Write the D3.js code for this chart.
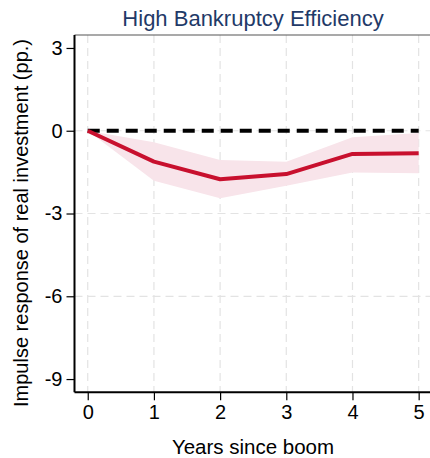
<!DOCTYPE html>
<html>
<head>
<meta charset="utf-8">
<script src="https://cdn.jsdelivr.net/npm/d3@7"></script>
<style>
  body { margin: 0; background: #fff; }
  text { font-family: "Liberation Sans", Arial, sans-serif; }
</style>
</head>
<body>
<div id="chart"></div>
<script>
// data
const years = [0, 1, 2, 3, 4, 5];
const irf = [0, -1.12, -1.76, -1.57, -0.84, -0.82];
const ciUpper = [0, -0.42, -1.06, -1.12, -0.24, -0.08];
const ciLower = [0, -1.81, -2.45, -1.99, -1.51, -1.54];
const yTicks = [3, 0, -3, -6, -9];
const yGrid = [0, -3, -6];

const width = 430;
const height = 458;

const xScale = d3.scaleLinear().domain([-0.2, 5.2]).range([74.5, 431.9]);
const yScale = d3.scaleLinear().domain([-9.48, 3.47]).range([392.3, 35]);

const svg = d3
  .select("#chart")
  .append("svg")
  .attr("width", width)
  .attr("height", height);

// grid
svg
  .append("g")
  .selectAll("line")
  .data(years)
  .enter()
  .append("line")
  .attr("x1", (d) => xScale(d))
  .attr("x2", (d) => xScale(d))
  .attr("y1", yScale.range()[1])
  .attr("y2", yScale.range()[0])
  .attr("stroke", "#e3e3e3")
  .attr("stroke-width", 1.2)
  .attr("stroke-dasharray", "8,5");

svg
  .append("g")
  .selectAll("line")
  .data(yGrid)
  .enter()
  .append("line")
  .attr("x1", xScale.range()[0])
  .attr("x2", xScale.range()[1])
  .attr("y1", (d) => yScale(d))
  .attr("y2", (d) => yScale(d))
  .attr("stroke", "#e3e3e3")
  .attr("stroke-width", 1.2)
  .attr("stroke-dasharray", "8,5");

// top frame line
svg
  .append("line")
  .attr("x1", xScale.range()[0])
  .attr("x2", xScale.range()[1])
  .attr("y1", yScale.range()[1])
  .attr("y2", yScale.range()[1])
  .attr("stroke", "#555")
  .attr("stroke-width", 1.2);

// confidence band
const band = years.map((d, i) => ({ x: d, lo: ciLower[i], hi: ciUpper[i] }));
svg
  .append("path")
  .datum(band)
  .attr("fill", "#f8e4ea")
  .attr(
    "d",
    d3
      .area()
      .x((d) => xScale(d.x))
      .y0((d) => yScale(d.lo))
      .y1((d) => yScale(d.hi))
  );

// zero line
svg
  .append("line")
  .attr("x1", xScale(0))
  .attr("x2", xScale(5))
  .attr("y1", yScale(0))
  .attr("y2", yScale(0))
  .attr("stroke", "#000")
  .attr("stroke-width", 4)
  .attr("stroke-dasharray", "12,7");

// impulse response line
svg
  .append("path")
  .datum(years.map((d, i) => [d, irf[i]]))
  .attr("fill", "none")
  .attr("stroke", "#c8102e")
  .attr("stroke-width", 4)
  .attr("stroke-linejoin", "round")
  .attr(
    "d",
    d3
      .line()
      .x((d) => xScale(d[0]))
      .y((d) => yScale(d[1]))
  );

// axes
const yAxis = d3
  .axisLeft(yScale)
  .tickValues(yTicks)
  .tickFormat((d) => String(d))
  .tickSize(8)
  .tickPadding(4);
const gy = svg
  .append("g")
  .attr("transform", "translate(" + xScale.range()[0] + ",0)")
  .call(yAxis);

const xAxis = d3
  .axisBottom(xScale)
  .tickValues(years)
  .tickFormat((d) => String(d))
  .tickSize(8)
  .tickPadding(5);
const gx = svg
  .append("g")
  .attr("transform", "translate(0," + yScale.range()[0] + ")")
  .call(xAxis);

[gx, gy].forEach((g) => {
  g.select(".domain").attr("stroke", "#000").attr("stroke-width", 2);
  g.selectAll(".tick line").attr("stroke", "#000").attr("stroke-width", 1.2);
  g.selectAll(".tick text")
    .attr("fill", "#000")
    .style("font-size", "20px")
    .style("font-family", "Liberation Sans, Arial, sans-serif");
});
gy.select(".domain").attr("d", "M0," + yScale.range()[1] + "V" + yScale.range()[0]);
gx.select(".domain").attr("d", "M" + xScale.range()[0] + ",0H" + xScale.range()[1]);

// title and axis labels
svg
  .append("text")
  .attr("x", 253)
  .attr("y", 26)
  .attr("text-anchor", "middle")
  .attr("fill", "#1f3a68")
  .style("font-size", "22px")
  .text("High Bankruptcy Efficiency");

svg
  .append("text")
  .attr("x", 253)
  .attr("y", 454)
  .attr("text-anchor", "middle")
  .attr("fill", "#000")
  .style("font-size", "20.5px")
  .text("Years since boom");

svg
  .append("text")
  .attr("transform", "translate(28,223) rotate(-90)")
  .attr("text-anchor", "middle")
  .attr("fill", "#000")
  .style("font-size", "20px")
  .text("Impulse response of real investment (pp.)");
</script>
</body>
</html>
